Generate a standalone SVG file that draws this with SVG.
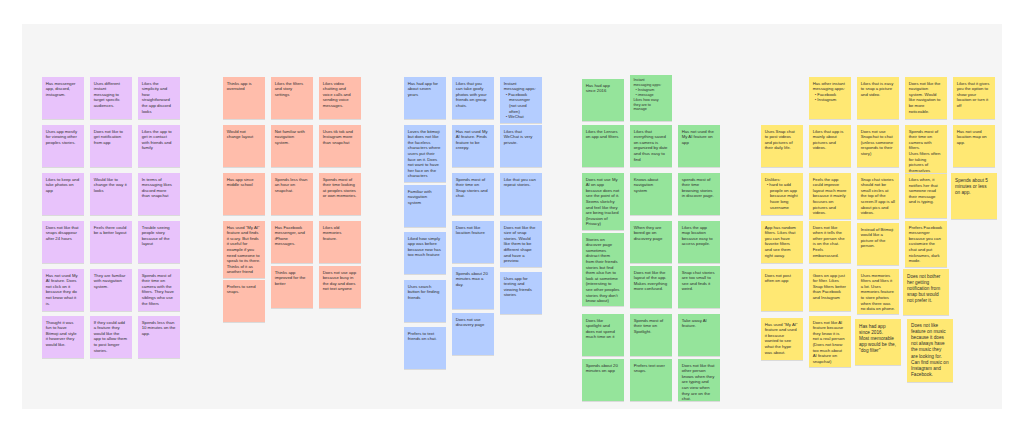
<svg xmlns="http://www.w3.org/2000/svg" width="1024" height="431" viewBox="0 0 1024 431">
<defs>
<filter id="sh" x="-10%" y="-10%" width="120%" height="125%"><feDropShadow dx="0" dy="0.6" stdDeviation="0.5" flood-color="#000" flood-opacity="0.18"/></filter>
</defs>
<style>
.n rect{filter:url(#sh)}
.n text{font-family:"Liberation Sans",Arial,sans-serif;font-size:4.25px;fill:#2e2e2e}
.n text.sm{font-size:3.7px}
.n text.lg{font-size:4.7px}
.p rect{fill:#e8c3fb}
.s rect{fill:#ffbdab}
.b rect{fill:#b4cdff}
.g rect{fill:#95e49b}
.y rect{fill:#ffe873}
</style>
<rect x="0" y="0" width="1024" height="431" fill="#ffffff"/>
<rect x="22" y="24" width="980" height="385" fill="#f5f5f5"/>

<g id="purple">
<g id="p1" class="n p"><rect x="42" y="77" width="42" height="42"/><text><tspan x="45.7" y="84.5">Has messenger</tspan><tspan x="45.7" dy="5.6">app, discord,</tspan><tspan x="45.7" dy="5.6">instagram.</tspan></text></g>
<g id="p2" class="n p"><rect x="90" y="77" width="42" height="42"/><text><tspan x="93.7" y="84.5">Uses different</tspan><tspan x="93.7" dy="5.6">instant</tspan><tspan x="93.7" dy="5.6">messaging to</tspan><tspan x="93.7" dy="5.6">target specific</tspan><tspan x="93.7" dy="5.6">audiences.</tspan></text></g>
<g id="p3" class="n p"><rect x="138" y="77" width="42" height="42"/><text><tspan x="141.7" y="84.5">Likes the</tspan><tspan x="141.7" dy="5.6">simplicity and</tspan><tspan x="141.7" dy="5.6">how</tspan><tspan x="141.7" dy="5.6">straightforward</tspan><tspan x="141.7" dy="5.6">the app discord</tspan><tspan x="141.7" dy="5.6">looks</tspan></text></g>
<g id="p4" class="n p"><rect x="42" y="125" width="42" height="42"/><text><tspan x="45.7" y="132.5">Uses app mostly</tspan><tspan x="45.7" dy="5.6">for viewing other</tspan><tspan x="45.7" dy="5.6">peoples stories.</tspan></text></g>
<g id="p5" class="n p"><rect x="90" y="125" width="42" height="42"/><text><tspan x="93.7" y="132.5">Does not like to</tspan><tspan x="93.7" dy="5.6">get notification</tspan><tspan x="93.7" dy="5.6">from app</tspan></text></g>
<g id="p6" class="n p"><rect x="138" y="125" width="42" height="42"/><text><tspan x="141.7" y="132.5">Likes the app to</tspan><tspan x="141.7" dy="5.6">get in contact</tspan><tspan x="141.7" dy="5.6">with friends and</tspan><tspan x="141.7" dy="5.6">family</tspan></text></g>
<g id="p7" class="n p"><rect x="42" y="173" width="42" height="42"/><text><tspan x="45.7" y="180.5">Likes to keep and</tspan><tspan x="45.7" dy="5.6">take photos on</tspan><tspan x="45.7" dy="5.6">app</tspan></text></g>
<g id="p8" class="n p"><rect x="90" y="173" width="42" height="42"/><text><tspan x="93.7" y="180.5">Would like to</tspan><tspan x="93.7" dy="5.6">change the way it</tspan><tspan x="93.7" dy="5.6">looks</tspan></text></g>
<g id="p9" class="n p"><rect x="138" y="173" width="42" height="42"/><text><tspan x="141.7" y="180.5">In terms of</tspan><tspan x="141.7" dy="5.6">messaging likes</tspan><tspan x="141.7" dy="5.6">discord more</tspan><tspan x="141.7" dy="5.6">than snapchat</tspan></text></g>
<g id="p10" class="n p"><rect x="42" y="221" width="42" height="42"/><text><tspan x="45.7" y="228.5">Does not like that</tspan><tspan x="45.7" dy="5.6">snaps disappear</tspan><tspan x="45.7" dy="5.6">after 24 hours</tspan></text></g>
<g id="p11" class="n p"><rect x="90" y="221" width="42" height="42"/><text><tspan x="93.7" y="228.5">Feels there could</tspan><tspan x="93.7" dy="5.6">be a better layout</tspan></text></g>
<g id="p12" class="n p"><rect x="138" y="221" width="42" height="42"/><text><tspan x="141.7" y="228.5">Trouble seeing</tspan><tspan x="141.7" dy="5.6">people story</tspan><tspan x="141.7" dy="5.6">because of the</tspan><tspan x="141.7" dy="5.6">layout</tspan></text></g>
<g id="p13" class="n p"><rect x="42" y="269" width="42" height="42"/><text><tspan x="45.7" y="276.5">Has not used My</tspan><tspan x="45.7" dy="5.6">AI feature. Does</tspan><tspan x="45.7" dy="5.6">not click on it</tspan><tspan x="45.7" dy="5.6">because they do</tspan><tspan x="45.7" dy="5.6">not know what it</tspan><tspan x="45.7" dy="5.6">is.</tspan></text></g>
<g id="p14" class="n p"><rect x="90" y="269" width="42" height="42"/><text><tspan x="93.7" y="276.5">They are familiar</tspan><tspan x="93.7" dy="5.6">with navigation</tspan><tspan x="93.7" dy="5.6">system.</tspan></text></g>
<g id="p15" class="n p"><rect x="138" y="269" width="42" height="42"/><text><tspan x="141.7" y="276.5">Spends most of</tspan><tspan x="141.7" dy="5.6">their time on</tspan><tspan x="141.7" dy="5.6">camera with the</tspan><tspan x="141.7" dy="5.6">filters. They have</tspan><tspan x="141.7" dy="5.6">siblings who use</tspan><tspan x="141.7" dy="5.6">the filters</tspan></text></g>
<g id="p16" class="n p"><rect x="42" y="316" width="42" height="42"/><text><tspan x="45.7" y="323.5">Thought it was</tspan><tspan x="45.7" dy="5.6">fun to have</tspan><tspan x="45.7" dy="5.6">Bitmoji and style</tspan><tspan x="45.7" dy="5.6">it however they</tspan><tspan x="45.7" dy="5.6">would like.</tspan></text></g>
<g id="p17" class="n p"><rect x="90" y="316" width="42" height="42"/><text><tspan x="93.7" y="323.5">If they could add</tspan><tspan x="93.7" dy="5.6">a feature they</tspan><tspan x="93.7" dy="5.6">would like the</tspan><tspan x="93.7" dy="5.6">app to allow them</tspan><tspan x="93.7" dy="5.6">to post longer</tspan><tspan x="93.7" dy="5.6">stories.</tspan></text></g>
<g id="p18" class="n p"><rect x="138" y="316" width="42" height="42"/><text><tspan x="141.7" y="323.5">Spends less than</tspan><tspan x="141.7" dy="5.6">10 minutes on the</tspan><tspan x="141.7" dy="5.6">app.</tspan></text></g>
</g>

<g id="salmon">
<g id="s1" class="n s"><rect x="223" y="77" width="42" height="42"/><text><tspan x="226.7" y="84.5">Thinks app is</tspan><tspan x="226.7" dy="5.6">overrated</tspan></text></g>
<g id="s2" class="n s"><rect x="271" y="77" width="42" height="42"/><text><tspan x="274.7" y="84.5">Likes the filters</tspan><tspan x="274.7" dy="5.6">and story</tspan><tspan x="274.7" dy="5.6">settings</tspan></text></g>
<g id="s3" class="n s"><rect x="319" y="77" width="42" height="42"/><text><tspan x="322.7" y="84.5">Likes video</tspan><tspan x="322.7" dy="5.6">chatting and</tspan><tspan x="322.7" dy="5.6">voice calls and</tspan><tspan x="322.7" dy="5.6">sending voice</tspan><tspan x="322.7" dy="5.6">messages.</tspan></text></g>
<g id="s4" class="n s"><rect x="223" y="125" width="42" height="42"/><text><tspan x="226.7" y="132.5">Would not</tspan><tspan x="226.7" dy="5.6">change layout</tspan></text></g>
<g id="s5" class="n s"><rect x="271" y="125" width="42" height="42"/><text><tspan x="274.7" y="132.5">Not familiar with</tspan><tspan x="274.7" dy="5.6">navigation</tspan><tspan x="274.7" dy="5.6">system.</tspan></text></g>
<g id="s6" class="n s"><rect x="319" y="125" width="42" height="42"/><text><tspan x="322.7" y="132.5">Uses tik tok and</tspan><tspan x="322.7" dy="5.6">Instagram more</tspan><tspan x="322.7" dy="5.6">than snapchat</tspan></text></g>
<g id="s7" class="n s"><rect x="223" y="173" width="42" height="42"/><text><tspan x="226.7" y="180.5">Has app since</tspan><tspan x="226.7" dy="5.6">middle school</tspan></text></g>
<g id="s8" class="n s"><rect x="271" y="173" width="42" height="42"/><text><tspan x="274.7" y="180.5">Spends less than</tspan><tspan x="274.7" dy="5.6">an hour on</tspan><tspan x="274.7" dy="5.6">snapchat.</tspan></text></g>
<g id="s9" class="n s"><rect x="319" y="173" width="42" height="42"/><text><tspan x="322.7" y="180.5">Spends most of</tspan><tspan x="322.7" dy="5.6">their time looking</tspan><tspan x="322.7" dy="5.6">at peoples stories</tspan><tspan x="322.7" dy="5.6">or own memories.</tspan></text></g>
<g id="s10" class="n s"><rect x="223" y="221" width="42" height="57"/><text><tspan x="226.7" y="228.5">Has used "My AI"</tspan><tspan x="226.7" dy="5.6">feature and finds</tspan><tspan x="226.7" dy="5.6">it scary. But finds</tspan><tspan x="226.7" dy="5.6">it useful for</tspan><tspan x="226.7" dy="5.6">example if you</tspan><tspan x="226.7" dy="5.6">need someone to</tspan><tspan x="226.7" dy="5.6">speak to its there.</tspan><tspan x="226.7" dy="5.6">Thinks of it as</tspan><tspan x="226.7" dy="5.6">another friend</tspan></text></g>
<g id="s11" class="n s"><rect x="223" y="280" width="42" height="42"/><text><tspan x="226.7" y="287.5">Prefers to send</tspan><tspan x="226.7" dy="5.6">snaps.</tspan></text></g>
<g id="s12" class="n s"><rect x="271" y="221" width="42" height="42"/><text><tspan x="274.7" y="228.5">Has Facebook</tspan><tspan x="274.7" dy="5.6">messenger, and</tspan><tspan x="274.7" dy="5.6">iPhone</tspan><tspan x="274.7" dy="5.6">messages.</tspan></text></g>
<g id="s13" class="n s"><rect x="271" y="266" width="42" height="42"/><text><tspan x="274.7" y="273.5">Thinks app</tspan><tspan x="274.7" dy="5.6">improved for the</tspan><tspan x="274.7" dy="5.6">better</tspan></text></g>
<g id="s14" class="n s"><rect x="319" y="221" width="42" height="42"/><text><tspan x="322.7" y="228.5">Likes old</tspan><tspan x="322.7" dy="5.6">memories</tspan><tspan x="322.7" dy="5.6">feature.</tspan></text></g>
<g id="s15" class="n s"><rect x="319" y="266" width="42" height="42"/><text><tspan x="322.7" y="273.5">Does not use app</tspan><tspan x="322.7" dy="5.6">because busy in</tspan><tspan x="322.7" dy="5.6">the day and does</tspan><tspan x="322.7" dy="5.6">not text anyone</tspan></text></g>
</g>

<g id="blue">
<g id="b1" class="n b"><rect x="404" y="77" width="42" height="42"/><text><tspan x="407.7" y="84.5">Has had app for</tspan><tspan x="407.7" dy="5.6">about seven</tspan><tspan x="407.7" dy="5.6">years</tspan></text></g>
<g id="b2" class="n b"><rect x="452" y="77" width="42" height="42"/><text><tspan x="455.7" y="84.5">Likes that you</tspan><tspan x="455.7" dy="5.6">can take goofy</tspan><tspan x="455.7" dy="5.6">photos with your</tspan><tspan x="455.7" dy="5.6">friends on group</tspan><tspan x="455.7" dy="5.6">chats.</tspan></text></g>
<g id="b3" class="n b"><rect x="500" y="77" width="42" height="46"/><text><tspan x="503.7" y="84.5">Instant</tspan><tspan x="503.7" dy="5.6">messaging apps:</tspan><tspan x="505.7" dy="5.6">•  Facebook</tspan><tspan x="509" dy="5.6">messenger</tspan><tspan x="509" dy="5.6">(not used</tspan><tspan x="509" dy="5.6">often)</tspan><tspan x="505.7" dy="5.6">•  WeChat</tspan></text></g>
<g id="b4" class="n b"><rect x="404" y="125" width="42" height="57"/><text><tspan x="407.7" y="132.5">Loves the bitmoji</tspan><tspan x="407.7" dy="5.6">but does not like</tspan><tspan x="407.7" dy="5.6">the faceless</tspan><tspan x="407.7" dy="5.6">characters where</tspan><tspan x="407.7" dy="5.6">users put their</tspan><tspan x="407.7" dy="5.6">face on it. Does</tspan><tspan x="407.7" dy="5.6">not want to have</tspan><tspan x="407.7" dy="5.6">her face on the</tspan><tspan x="407.7" dy="5.6">characters</tspan></text></g>
<g id="b5" class="n b"><rect x="452" y="125" width="42" height="42"/><text><tspan x="455.7" y="132.5">Has not used My</tspan><tspan x="455.7" dy="5.6">AI feature. Finds</tspan><tspan x="455.7" dy="5.6">feature to be</tspan><tspan x="455.7" dy="5.6">creepy.</tspan></text></g>
<g id="b6" class="n b"><rect x="500" y="125" width="42" height="42"/><text><tspan x="503.7" y="132.5">Likes that</tspan><tspan x="503.7" dy="5.6">WeChat is very</tspan><tspan x="503.7" dy="5.6">private.</tspan></text></g>
<g id="b7" class="n b"><rect x="404" y="185" width="42" height="42"/><text><tspan x="407.7" y="192.5">Familiar with</tspan><tspan x="407.7" dy="5.6">navigation</tspan><tspan x="407.7" dy="5.6">system</tspan></text></g>
<g id="b8" class="n b"><rect x="452" y="173" width="42" height="42"/><text><tspan x="455.7" y="180.5">Spends most of</tspan><tspan x="455.7" dy="5.6">their time on</tspan><tspan x="455.7" dy="5.6">Snap stories and</tspan><tspan x="455.7" dy="5.6">chat.</tspan></text></g>
<g id="b9" class="n b"><rect x="500" y="173" width="42" height="42"/><text><tspan x="503.7" y="180.5">Like that you can</tspan><tspan x="503.7" dy="5.6">repeat stories.</tspan></text></g>
<g id="b10" class="n b"><rect x="404" y="232" width="42" height="42"/><text><tspan x="407.7" y="239.5">Liked how simply</tspan><tspan x="407.7" dy="5.6">app was before</tspan><tspan x="407.7" dy="5.6">because now has</tspan><tspan x="407.7" dy="5.6">too much feature</tspan></text></g>
<g id="b11" class="n b"><rect x="452" y="221" width="42" height="42"/><text><tspan x="455.7" y="228.5">Does not like</tspan><tspan x="455.7" dy="5.6">location feature</tspan></text></g>
<g id="b12" class="n b"><rect x="500" y="221" width="42" height="46"/><text><tspan x="503.7" y="228.5">Does not like the</tspan><tspan x="503.7" dy="5.6">size of snap</tspan><tspan x="503.7" dy="5.6">stories. Would</tspan><tspan x="503.7" dy="5.6">like them to be</tspan><tspan x="503.7" dy="5.6">different shape</tspan><tspan x="503.7" dy="5.6">and have a</tspan><tspan x="503.7" dy="5.6">preview.</tspan></text></g>
<g id="b13" class="n b"><rect x="404" y="280" width="42" height="42"/><text><tspan x="407.7" y="287.5">Uses search</tspan><tspan x="407.7" dy="5.6">button for finding</tspan><tspan x="407.7" dy="5.6">friends</tspan></text></g>
<g id="b14" class="n b"><rect x="452" y="267" width="42" height="42"/><text><tspan x="455.7" y="274.5">Spends about 20</tspan><tspan x="455.7" dy="5.6">minutes max a</tspan><tspan x="455.7" dy="5.6">day.</tspan></text></g>
<g id="b15" class="n b"><rect x="500" y="272" width="42" height="42"/><text><tspan x="503.7" y="279.5">Uses app for</tspan><tspan x="503.7" dy="5.6">texting and</tspan><tspan x="503.7" dy="5.6">viewing friends</tspan><tspan x="503.7" dy="5.6">stories</tspan></text></g>
<g id="b16" class="n b"><rect x="404" y="327" width="42" height="42"/><text><tspan x="407.7" y="334.5">Prefers to text</tspan><tspan x="407.7" dy="5.6">friends on chat.</tspan></text></g>
<g id="b17" class="n b"><rect x="452" y="313" width="42" height="42"/><text><tspan x="455.7" y="320.5">Does not use</tspan><tspan x="455.7" dy="5.6">discovery page</tspan></text></g>
</g>

<g id="green">
<g id="g1" class="n g"><rect x="582" y="79" width="42" height="42"/><text><tspan x="585.7" y="86.5">Has had app</tspan><tspan x="585.7" dy="5.6">since 2016</tspan></text></g>
<g id="g2" class="n g"><rect x="630" y="75" width="42" height="46"/><text class="sm"><tspan x="633.5" y="81">Instant</tspan><tspan x="633.5" dy="4.9">messaging apps:</tspan><tspan x="635.5" dy="4.9">•  Instagram</tspan><tspan x="635.5" dy="4.9">•  imessage</tspan><tspan x="633.5" dy="4.9">Likes how easy</tspan><tspan x="633.5" dy="4.9">they are to</tspan><tspan x="633.5" dy="4.9">manage</tspan></text></g>
<g id="g3" class="n g"><rect x="582" y="125" width="42" height="42"/><text><tspan x="585.7" y="132.5">Likes the Lenses</tspan><tspan x="585.7" dy="5.6">on app and filters</tspan></text></g>
<g id="g4" class="n g"><rect x="630" y="125" width="42" height="42"/><text><tspan x="633.7" y="132.5">Likes that</tspan><tspan x="633.7" dy="5.6">everything saved</tspan><tspan x="633.7" dy="5.6">on camera is</tspan><tspan x="633.7" dy="5.6">organized by date</tspan><tspan x="633.7" dy="5.6">and thus easy to</tspan><tspan x="633.7" dy="5.6">find</tspan></text></g>
<g id="g5" class="n g"><rect x="678" y="125" width="42" height="42"/><text><tspan x="681.7" y="132.5">Has not used the</tspan><tspan x="681.7" dy="5.6">My AI feature on</tspan><tspan x="681.7" dy="5.6">app</tspan></text></g>
<g id="g6" class="n g"><rect x="582" y="173" width="42" height="57"/><text><tspan x="585.7" y="180.5">Does not use My</tspan><tspan x="585.7" dy="5.6">AI on app</tspan><tspan x="585.7" dy="5.6">because does not</tspan><tspan x="585.7" dy="5.6">see the point of it.</tspan><tspan x="585.7" dy="5.6">Seems sketchy</tspan><tspan x="585.7" dy="5.6">and feel like they</tspan><tspan x="585.7" dy="5.6">are being tracked</tspan><tspan x="585.7" dy="5.6">(Invasion of</tspan><tspan x="585.7" dy="5.6">Privacy)</tspan></text></g>
<g id="g7" class="n g"><rect x="630" y="173" width="42" height="42"/><text><tspan x="633.7" y="180.5">Knows about</tspan><tspan x="633.7" dy="5.6">navigation</tspan><tspan x="633.7" dy="5.6">system</tspan></text></g>
<g id="g8" class="n g"><rect x="678" y="173" width="42" height="42"/><text><tspan x="681.7" y="180.5">spends most of</tspan><tspan x="681.7" dy="5.6">their time</tspan><tspan x="681.7" dy="5.6">browsing stories</tspan><tspan x="681.7" dy="5.6">in discover page.</tspan></text></g>
<g id="g9" class="n g"><rect x="582" y="233" width="42" height="73"/><text><tspan x="585.7" y="240.5">Stories on</tspan><tspan x="585.7" dy="5.6">discover page</tspan><tspan x="585.7" dy="5.6">sometimes</tspan><tspan x="585.7" dy="5.6">distract them</tspan><tspan x="585.7" dy="5.6">from their friends</tspan><tspan x="585.7" dy="5.6">stories but find</tspan><tspan x="585.7" dy="5.6">them also fun to</tspan><tspan x="585.7" dy="5.6">look at sometime</tspan><tspan x="585.7" dy="5.6">(interesting to</tspan><tspan x="585.7" dy="5.6">see other peoples</tspan><tspan x="585.7" dy="5.6">stories they don't</tspan><tspan x="585.7" dy="5.6">know about)</tspan></text></g>
<g id="g10" class="n g"><rect x="630" y="221" width="42" height="42"/><text><tspan x="633.7" y="228.5">When they are</tspan><tspan x="633.7" dy="5.6">bored go on</tspan><tspan x="633.7" dy="5.6">discovery page</tspan></text></g>
<g id="g11" class="n g"><rect x="678" y="221" width="42" height="42"/><text><tspan x="681.7" y="228.5">Likes the app</tspan><tspan x="681.7" dy="5.6">map location</tspan><tspan x="681.7" dy="5.6">because easy to</tspan><tspan x="681.7" dy="5.6">access people.</tspan></text></g>
<g id="g12" class="n g"><rect x="630" y="266" width="42" height="42"/><text><tspan x="633.7" y="273.5">Does not like the</tspan><tspan x="633.7" dy="5.6">layout of the app.</tspan><tspan x="633.7" dy="5.6">Makes everything</tspan><tspan x="633.7" dy="5.6">more confused.</tspan></text></g>
<g id="g13" class="n g"><rect x="678" y="266" width="42" height="42"/><text><tspan x="681.7" y="273.5">Snap chat stories</tspan><tspan x="681.7" dy="5.6">are too small to</tspan><tspan x="681.7" dy="5.6">see and finds it</tspan><tspan x="681.7" dy="5.6">weird.</tspan></text></g>
<g id="g14" class="n g"><rect x="582" y="314" width="42" height="42"/><text><tspan x="585.7" y="321.5">Does like</tspan><tspan x="585.7" dy="5.6">spotlight and</tspan><tspan x="585.7" dy="5.6">does not spend</tspan><tspan x="585.7" dy="5.6">much time on it</tspan></text></g>
<g id="g15" class="n g"><rect x="630" y="314" width="42" height="42"/><text><tspan x="633.7" y="321.5">Spends most of</tspan><tspan x="633.7" dy="5.6">their time on</tspan><tspan x="633.7" dy="5.6">Spotlight.</tspan></text></g>
<g id="g16" class="n g"><rect x="678" y="314" width="42" height="42"/><text><tspan x="681.7" y="321.5">Take away AI</tspan><tspan x="681.7" dy="5.6">feature.</tspan></text></g>
<g id="g17" class="n g"><rect x="582" y="359" width="42" height="42"/><text><tspan x="585.7" y="366.5">Spends about 20</tspan><tspan x="585.7" dy="5.6">minutes on app</tspan></text></g>
<g id="g18" class="n g"><rect x="630" y="359" width="42" height="42"/><text><tspan x="633.7" y="366.5">Prefers text over</tspan><tspan x="633.7" dy="5.6">snaps.</tspan></text></g>
<g id="g19" class="n g"><rect x="678" y="359" width="42" height="42"/><text><tspan x="681.7" y="366.5">Does not like that</tspan><tspan x="681.7" dy="5.6">other person</tspan><tspan x="681.7" dy="5.6">knows when they</tspan><tspan x="681.7" dy="5.6">are typing and</tspan><tspan x="681.7" dy="5.6">can view when</tspan><tspan x="681.7" dy="5.6">they are on the</tspan><tspan x="681.7" dy="5.6">chat.</tspan></text></g>
</g>

<g id="yellow">
<g id="y1" class="n y"><rect x="809" y="77" width="42" height="42"/><text><tspan x="812.7" y="84.5">Has other instant</tspan><tspan x="812.7" dy="5.6">messaging apps:</tspan><tspan x="814.7" dy="5.6">•  Facebook</tspan><tspan x="814.7" dy="5.6">•  Instagram</tspan></text></g>
<g id="y2" class="n y"><rect x="857" y="77" width="42" height="42"/><text><tspan x="860.7" y="84.5">Likes that is easy</tspan><tspan x="860.7" dy="5.6">to snap a picture</tspan><tspan x="860.7" dy="5.6">and video.</tspan></text></g>
<g id="y3" class="n y"><rect x="905" y="77" width="42" height="42"/><text><tspan x="908.7" y="84.5">Does not like the</tspan><tspan x="908.7" dy="5.6">navigation</tspan><tspan x="908.7" dy="5.6">system. Would</tspan><tspan x="908.7" dy="5.6">like navigation to</tspan><tspan x="908.7" dy="5.6">be more</tspan><tspan x="908.7" dy="5.6">noticeable.</tspan></text></g>
<g id="y4" class="n y"><rect x="953" y="77" width="42" height="42"/><text><tspan x="956.7" y="84.5">Likes that it gives</tspan><tspan x="956.7" dy="5.6">you the option to</tspan><tspan x="956.7" dy="5.6">show your</tspan><tspan x="956.7" dy="5.6">location or turn it</tspan><tspan x="956.7" dy="5.6">off</tspan></text></g>
<g id="y5" class="n y"><rect x="761" y="125" width="42" height="42"/><text><tspan x="764.7" y="132.5">Uses Snap chat</tspan><tspan x="764.7" dy="5.6">to post videos</tspan><tspan x="764.7" dy="5.6">and pictures of</tspan><tspan x="764.7" dy="5.6">their daily life.</tspan></text></g>
<g id="y6" class="n y"><rect x="809" y="125" width="42" height="42"/><text><tspan x="812.7" y="132.5">Likes that app is</tspan><tspan x="812.7" dy="5.6">mainly about</tspan><tspan x="812.7" dy="5.6">pictures and</tspan><tspan x="812.7" dy="5.6">videos.</tspan></text></g>
<g id="y7" class="n y"><rect x="857" y="125" width="42" height="42"/><text><tspan x="860.7" y="132.5">Does not use</tspan><tspan x="860.7" dy="5.6">Snapchat to chat</tspan><tspan x="860.7" dy="5.6">(unless someone</tspan><tspan x="860.7" dy="5.6">responds to their</tspan><tspan x="860.7" dy="5.6">story)</tspan></text></g>
<g id="y8" class="n y"><rect x="905" y="125" width="42" height="48"/><text><tspan x="908.7" y="132.5">Spends most of</tspan><tspan x="908.7" dy="5.6">their time on</tspan><tspan x="908.7" dy="5.6">camera with</tspan><tspan x="908.7" dy="5.6">filters.</tspan><tspan x="908.7" dy="5.6">Uses filters often</tspan><tspan x="908.7" dy="5.6">for taking</tspan><tspan x="908.7" dy="5.6">pictures of</tspan><tspan x="908.7" dy="5.6">themselves</tspan></text></g>
<g id="y9" class="n y"><rect x="953" y="125" width="42" height="42"/><text><tspan x="956.7" y="132.5">Has not used</tspan><tspan x="956.7" dy="5.6">location map on</tspan><tspan x="956.7" dy="5.6">app.</tspan></text></g>
<g id="y10" class="n y"><rect x="761" y="173" width="42" height="42"/><text><tspan x="764.7" y="180.5">Dislikes:</tspan><tspan x="766.7" dy="5.6">•  hard to add</tspan><tspan x="770" dy="5.6">people on app</tspan><tspan x="770" dy="5.6">because might</tspan><tspan x="770" dy="5.6">have long</tspan><tspan x="770" dy="5.6">username</tspan></text></g>
<g id="y11" class="n y"><rect x="809" y="173" width="42" height="46"/><text><tspan x="812.7" y="180.5">Feels the app</tspan><tspan x="812.7" dy="5.6">could improve</tspan><tspan x="812.7" dy="5.6">layout much more</tspan><tspan x="812.7" dy="5.6">because it mainly</tspan><tspan x="812.7" dy="5.6">focuses on</tspan><tspan x="812.7" dy="5.6">pictures and</tspan><tspan x="812.7" dy="5.6">videos.</tspan></text></g>
<g id="y12" class="n y"><rect x="857" y="173" width="42" height="46"/><text><tspan x="860.7" y="180.5">Snap chat stories</tspan><tspan x="860.7" dy="5.6">should not be</tspan><tspan x="860.7" dy="5.6">small circles at</tspan><tspan x="860.7" dy="5.6">the top of the</tspan><tspan x="860.7" dy="5.6">screen.If app is all</tspan><tspan x="860.7" dy="5.6">about pics and</tspan><tspan x="860.7" dy="5.6">videos.</tspan></text></g>
<g id="y13" class="n y"><rect x="905" y="174" width="42" height="44"/><text><tspan x="908.7" y="181">Likes when, it</tspan><tspan x="908.7" dy="5.6">notifies her that</tspan><tspan x="908.7" dy="5.6">someone read</tspan><tspan x="908.7" dy="5.6">their message</tspan><tspan x="908.7" dy="5.6">and is typing.</tspan></text></g>
<g id="y14" class="n y"><rect x="951" y="173" width="46" height="46"/><text class="lg"><tspan x="955" y="181.5">Spends about 5</tspan><tspan x="955" dy="6.2">minutes or less</tspan><tspan x="955" dy="6.2">on app.</tspan></text></g>
<g id="y15" class="n y"><rect x="761" y="221" width="42" height="42"/><text><tspan x="764.7" y="228.5">App has random</tspan><tspan x="764.7" dy="5.6">filters. Likes that</tspan><tspan x="764.7" dy="5.6">you can have</tspan><tspan x="764.7" dy="5.6">favorite filters</tspan><tspan x="764.7" dy="5.6">and see them</tspan><tspan x="764.7" dy="5.6">right away.</tspan></text></g>
<g id="y16" class="n y"><rect x="809" y="221" width="42" height="42"/><text><tspan x="812.7" y="228.5">Does not like</tspan><tspan x="812.7" dy="5.6">when it tells the</tspan><tspan x="812.7" dy="5.6">other person she</tspan><tspan x="812.7" dy="5.6">is on the chat.</tspan><tspan x="812.7" dy="5.6">Feels</tspan><tspan x="812.7" dy="5.6">embarrassed.</tspan></text></g>
<g id="y17" class="n y"><rect x="857" y="223" width="42" height="42"/><text><tspan x="860.7" y="230.5">Instead of Bitmoji</tspan><tspan x="860.7" dy="5.6">would like a</tspan><tspan x="860.7" dy="5.6">picture of the</tspan><tspan x="860.7" dy="5.6">person.</tspan></text></g>
<g id="y18" class="n y"><rect x="905" y="221" width="42" height="46"/><text><tspan x="908.7" y="228.5">Prefers Facebook</tspan><tspan x="908.7" dy="5.6">messenger</tspan><tspan x="908.7" dy="5.6">because you can</tspan><tspan x="908.7" dy="5.6">customize the</tspan><tspan x="908.7" dy="5.6">chat and put</tspan><tspan x="908.7" dy="5.6">nicknames, dark</tspan><tspan x="908.7" dy="5.6">mode.</tspan></text></g>
<g id="y19" class="n y"><rect x="761" y="269" width="42" height="42"/><text><tspan x="764.7" y="276.5">Does not post</tspan><tspan x="764.7" dy="5.6">often on app</tspan></text></g>
<g id="y20" class="n y"><rect x="809" y="269" width="42" height="42"/><text><tspan x="812.7" y="276.5">Goes on app just</tspan><tspan x="812.7" dy="5.6">for filter. Likes</tspan><tspan x="812.7" dy="5.6">Snap filters better</tspan><tspan x="812.7" dy="5.6">than Facebook</tspan><tspan x="812.7" dy="5.6">and Instagram</tspan></text></g>
<g id="y21" class="n y"><rect x="857" y="269" width="42" height="45"/><text><tspan x="860.7" y="276.5">Uses memories</tspan><tspan x="860.7" dy="5.6">filters and likes it</tspan><tspan x="860.7" dy="5.6">a lot. Uses</tspan><tspan x="860.7" dy="5.6">memories feature</tspan><tspan x="860.7" dy="5.6">to store photos</tspan><tspan x="860.7" dy="5.6">when there was</tspan><tspan x="860.7" dy="5.6">no data on phone.</tspan></text></g>
<g id="y22" class="n y"><rect x="903" y="269" width="46" height="46"/><text class="lg"><tspan x="907" y="277.5">Does not bother</tspan><tspan x="907" dy="6.1">her getting</tspan><tspan x="907" dy="6.1">notification from</tspan><tspan x="907" dy="6.1">snap but would</tspan><tspan x="907" dy="6.1">not prefer it.</tspan></text></g>
<g id="y23" class="n y"><rect x="761" y="318" width="42" height="42"/><text><tspan x="764.7" y="325.5">Has used "My AI"</tspan><tspan x="764.7" dy="5.6">feature and used</tspan><tspan x="764.7" dy="5.6">it because</tspan><tspan x="764.7" dy="5.6">wanted to see</tspan><tspan x="764.7" dy="5.6">what the hype</tspan><tspan x="764.7" dy="5.6">was about.</tspan></text></g>
<g id="y24" class="n y"><rect x="809" y="316" width="42" height="51"/><text><tspan x="812.7" y="323.5">Does not like AI</tspan><tspan x="812.7" dy="5.6">feature because</tspan><tspan x="812.7" dy="5.6">they know it is</tspan><tspan x="812.7" dy="5.6">not a real person</tspan><tspan x="812.7" dy="5.6">(Does not know</tspan><tspan x="812.7" dy="5.6">too much about</tspan><tspan x="812.7" dy="5.6">AI feature on</tspan><tspan x="812.7" dy="5.6">snapchat)</tspan></text></g>
<g id="y25" class="n y"><rect x="855" y="319" width="46" height="46"/><text class="lg"><tspan x="859" y="327.5">Has had app</tspan><tspan x="859" dy="6.2">since 2016.</tspan><tspan x="859" dy="6.2">Most memorable</tspan><tspan x="859" dy="6.2">app would be the,</tspan><tspan x="859" dy="6.2">"dog filter"</tspan></text></g>
<g id="y26" class="n y"><rect x="907" y="319" width="46" height="63"/><text class="lg"><tspan x="911" y="327">Does not like</tspan><tspan x="911" dy="6.1">feature on music</tspan><tspan x="911" dy="6.1">because it does</tspan><tspan x="911" dy="6.1">not always have</tspan><tspan x="911" dy="6.1">the music they</tspan><tspan x="911" dy="6.1">are looking for.</tspan><tspan x="911" dy="6.1">Can find music on</tspan><tspan x="911" dy="6.1">Instagram and</tspan><tspan x="911" dy="6.1">Facebook.</tspan></text></g>
</g>
</svg>
